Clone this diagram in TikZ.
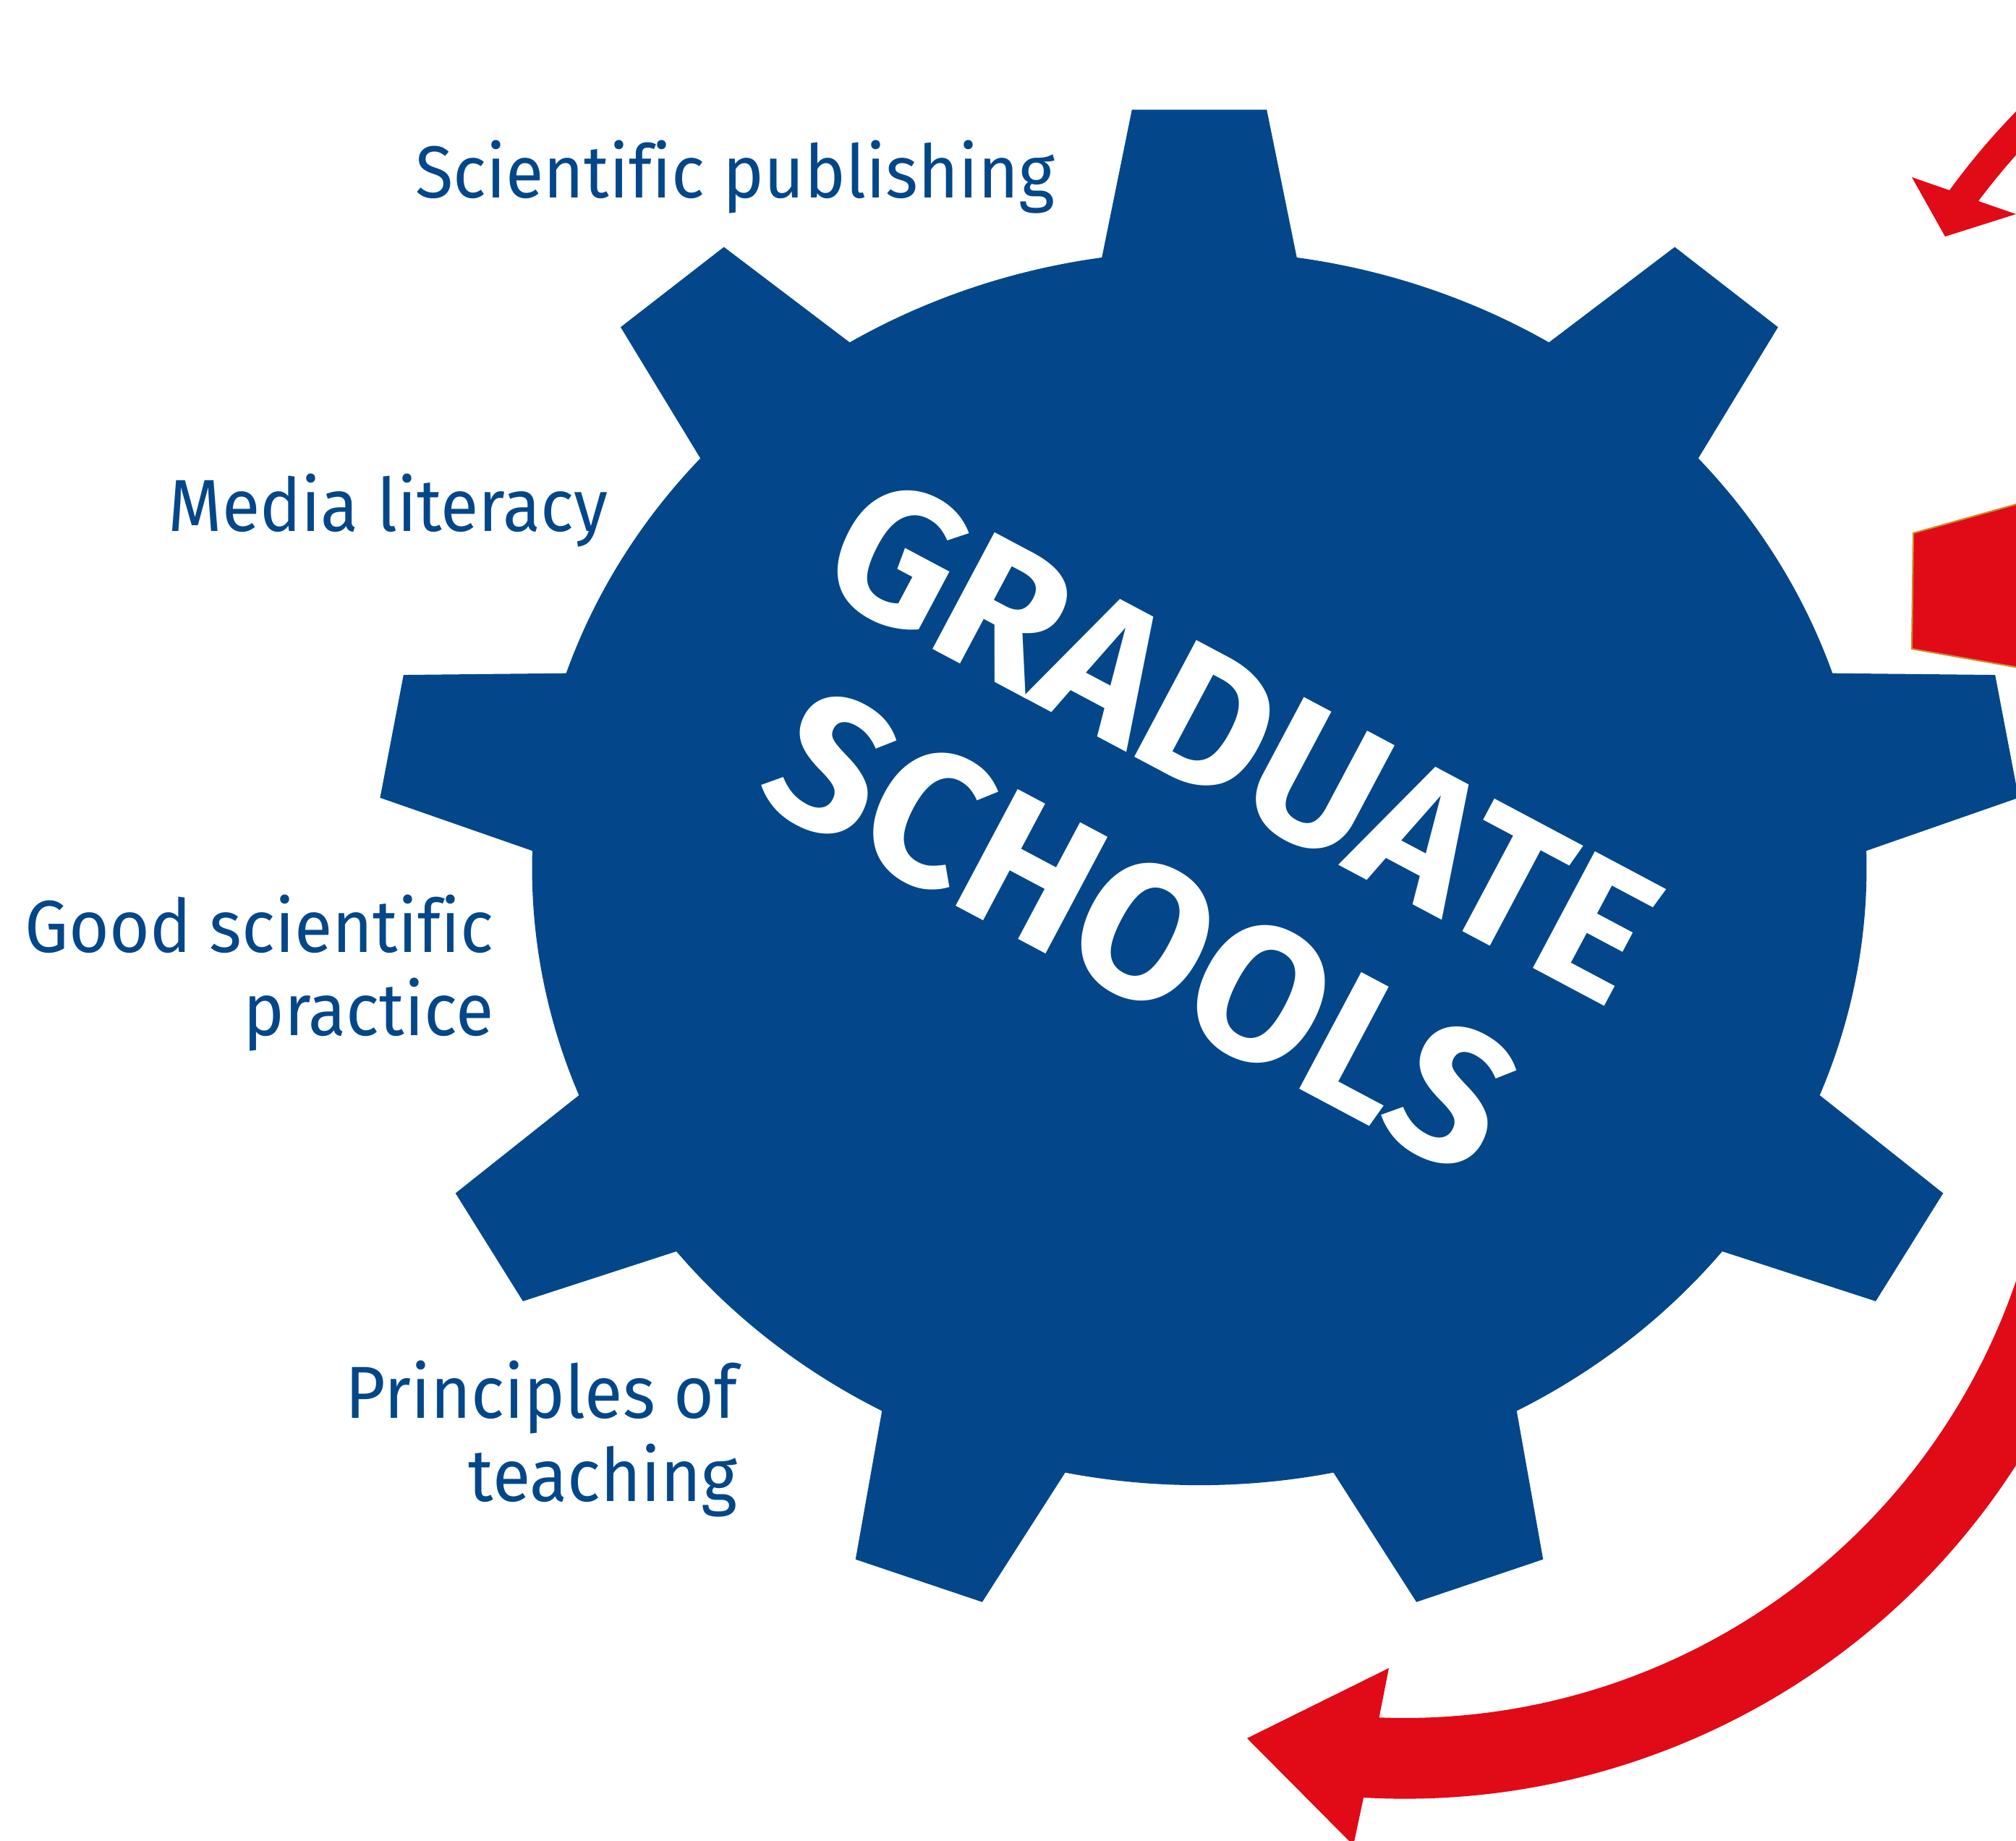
\documentclass[tikz,border=0pt]{standalone}
\usepackage{fontspec}
\setmainfont{Fira Sans}[FakeStretch=0.94,Ligatures=NoCommon]
\usepackage{tikz}
\definecolor{gearBlue}{RGB}{3,71,138}
\definecolor{loopRed}{RGB}{225,10,23}
\definecolor{rimOrange}{RGB}{205,140,45}

\begin{document}
\begin{tikzpicture}[lblND/.style={anchor=base east,
                                  align=right,
                                  inner sep=0pt,
                                  text=gearBlue,
                                  font=\fontsize{29}{33}\selectfont},
                    titleND/.style={rotate=-28,
                                    xscale=1.06,
                                    inner sep=0pt,
                                    align=center,
                                    text=white,
                                    font=\fontsize{75}{85}\selectfont\bfseries}]
    \useasboundingbox (0,0) rectangle (27.87,25.45);
    \clip (0,0) rectangle (27.87,25.45);
    % the gear, nine teeth
    \begin{scope}[shift={(16.58,13.45)},xscale=9.225,yscale=8.532]
        \fill[gearBlue] (98.4:1)
            \foreach \a in {90,50,...,-230}{
                -- (\a+8.4:1) -- (\a+4.7:1.233) -- (\a-4.7:1.233) -- (\a-8.4:1)
                arc[start angle=\a-8.4, end angle=\a-31.6, radius=1]}
            -- cycle;
    \end{scope}
    % red pieces on the right
    \filldraw[fill=loopRed, draw=rimOrange, line width=0.6pt]
        (26.45,18.08) -- (28.2,18.57) -- (28.2,16.17) -- (26.43,16.48) -- cycle;
    \fill[loopRed] (26.95,22.82) -- (26.43,23.00) -- (26.89,22.18) -- (27.87,22.49) -- (27.35,22.67)
        arc[start angle=143.2, end angle=120, radius=9.55]
        -- (30.02,25.58)
        arc[start angle=120, end angle=143.9, radius=9.96] -- cycle;
    \fill[loopRed] (19.07,1.73) -- (19.20,2.39) -- (17.24,1.42) -- (18.71,-0.06) -- (18.85,0.60)
        arc[start angle=266.75, end angle=360, radius=10.05]
        -- (28.35,10.63)
        arc[start angle=360, end angle=267.75, radius=8.93] -- cycle;
    % labels (base = last line)
    \node[lblND](publishing) at (14.59,22.71) {Scientific publishing};
    \node[lblND](media)      at (8.41,18.10)  {Media literacy};
    \node[lblND](practice)   at (6.83,11.13)  {Good scientific\\practice};
    \node[lblND](teaching)   at (10.20,4.69)  {Principles of\\teaching};
    \node[titleND](graduate) at (16.48,13.91) {GRADUATE\\SCHOOLS};
\end{tikzpicture}
\end{document}
